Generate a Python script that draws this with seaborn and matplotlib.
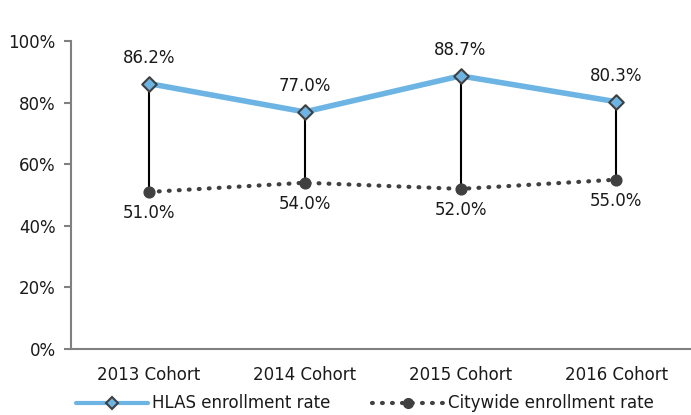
import matplotlib
matplotlib.use("Agg")
import matplotlib.pyplot as plt
import seaborn as sns
import pandas as pd
from matplotlib.ticker import FuncFormatter
from matplotlib.lines import Line2D

cohorts = ["2013 Cohort", "2014 Cohort", "2015 Cohort", "2016 Cohort"]
hlas = [86.2, 77.0, 88.7, 80.3]
citywide = [51.0, 54.0, 52.0, 55.0]
yticks = [0, 20, 40, 60, 80, 100]

sns.set_theme(style="white")
plt.rcParams['font.family'] = ['DejaVu Sans']
FS = 12
TXT = "#1a1a1a"

fig = plt.figure(figsize=(6.91, 4.15), dpi=100)
ax = fig.add_axes([0.1027, 0.159, 0.902, 0.742])

xpos = [i + 0.5 for i in range(len(cohorts))]
df = pd.DataFrame({"x": xpos, "hlas": hlas, "city": citywide})

# drop lines
ax.vlines(df["x"], df["city"], df["hlas"], color="black", lw=1.5, zorder=2)

sns.lineplot(data=df, x="x", y="city", ax=ax, color="#404040", lw=3,
             linestyle=(0, (0.2, 2.2)), dash_capstyle="round", zorder=3,
             legend=False)
sns.lineplot(data=df, x="x", y="hlas", ax=ax, color="#6CB4E4", lw=4,
             zorder=4, legend=False)
ax.scatter(df["x"], df["city"], s=60, color="#404040", zorder=5)
ax.scatter(df["x"], df["hlas"], s=55, marker="D", color="#6CB4E4",
           edgecolor="#404040", linewidth=1.5, zorder=6)

for x, h, c in zip(xpos, hlas, citywide):
    ax.annotate(f"{h:.1f}%", (x, h), xytext=(0, 12), textcoords="offset points",
                ha="center", va="bottom", fontsize=FS, color=TXT)
    ax.annotate(f"{c:.1f}%", (x, c), xytext=(0, -9), textcoords="offset points",
                ha="center", va="top", fontsize=FS, color=TXT)

ax.set_xlim(0, 4)
ax.set_ylim(0, 100)
ax.set_yticks(yticks)
ax.yaxis.set_major_formatter(FuncFormatter(lambda v, p: f"{v:.0f}%"))
ax.set_xticks(xpos)
ax.set_xticklabels(cohorts)
ax.set_xlabel("")
ax.set_ylabel("")
for s in ["top", "right"]:
    ax.spines[s].set_visible(False)
for s in ["left", "bottom"]:
    ax.spines[s].set_color("#808080")
    ax.spines[s].set_linewidth(1.5)
ax.tick_params(axis="y", which="major", left=True, length=5, width=1.5,
               color="#808080", labelsize=FS, labelcolor=TXT, pad=6)
ax.tick_params(axis="x", bottom=False, labelsize=FS, labelcolor=TXT, pad=6)

h1 = Line2D([], [], color="#6CB4E4", lw=3, marker="D", markersize=6,
            markerfacecolor="#6CB4E4", markeredgecolor="#404040", markeredgewidth=1.5)
h2 = Line2D([], [], color="#404040", lw=3, linestyle=(0, (0.2, 2.2)),
            dash_capstyle="round", marker="o", markersize=7)
fig.legend([h1, h2], ["HLAS enrollment rate", "Citywide enrollment rate"],
           loc="lower center", bbox_to_anchor=(0.528, -0.03), ncol=2, frameon=False,
           fontsize=FS, handlelength=4.3, columnspacing=2.5, handletextpad=0.25,
           labelcolor=TXT)

fig.savefig("out.png", dpi=100)
